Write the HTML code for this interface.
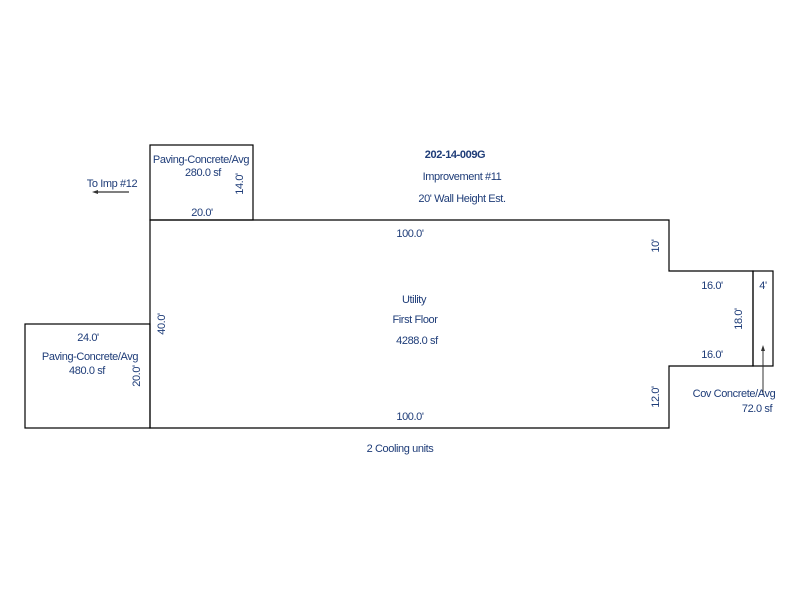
<!DOCTYPE html>
<html><head><style>body{margin:0;background:#fff}svg{display:block}text{font-family:"Liberation Sans",sans-serif;font-size:11px;fill:#1e3c78;letter-spacing:-0.4px}</style></head>
<body>
<svg width="800" height="600" viewBox="0 0 800 600">
<g fill="none" stroke="#000" stroke-width="1.2">
<polygon points="150,220 669,220 669,271 753,271 753,366 669,366 669,428 150,428"/>
<rect x="150" y="145" width="103" height="75"/>
<rect x="25" y="324" width="125" height="104"/>
<rect x="753" y="271" width="20" height="95"/>
</g>
<line x1="763" y1="395" x2="763" y2="348" stroke="#333" stroke-width="1"/>
<polygon points="763,345 761,351 765,351" fill="#333"/>
<line x1="96" y1="192" x2="129" y2="192" stroke="#333" stroke-width="1.2"/>
<polygon points="92,192 98,190 98,194" fill="#333"/>
<g text-anchor="middle">
<text x="455" y="158" style="font-weight:bold">202-14-009G</text>
<text x="462" y="180">Improvement #11</text>
<text x="462" y="202">20' Wall Height Est.</text>
<text x="112" y="187">To Imp #12</text>
<text x="201" y="163">Paving-Concrete/Avg</text>
<text x="203" y="176">280.0 sf</text>
<text x="202" y="216">20.0'</text>
<text x="410" y="237">100.0'</text>
<text x="414" y="303">Utility</text>
<text x="415" y="323">First Floor</text>
<text x="417" y="344">4288.0 sf</text>
<text x="410" y="420">100.0'</text>
<text x="400" y="452">2 Cooling units</text>
<text x="88" y="341">24.0'</text>
<text x="90" y="360">Paving-Concrete/Avg</text>
<text x="87" y="374">480.0 sf</text>
<text x="712" y="289">16.0'</text>
<text x="712" y="358">16.0'</text>
<text x="763" y="289">4'</text>
<text x="734" y="397">Cov Concrete/Avg</text>
<text x="757" y="412">72.0 sf</text>
<text transform="translate(243,184) rotate(-90)">14.0'</text>
<text transform="translate(659,246) rotate(-90)">10'</text>
<text transform="translate(165,324) rotate(-90)">40.0'</text>
<text transform="translate(140,376) rotate(-90)">20.0'</text>
<text transform="translate(742,319) rotate(-90)">18.0'</text>
<text transform="translate(659,397) rotate(-90)">12.0'</text>
</g>
</svg>
</body></html>
